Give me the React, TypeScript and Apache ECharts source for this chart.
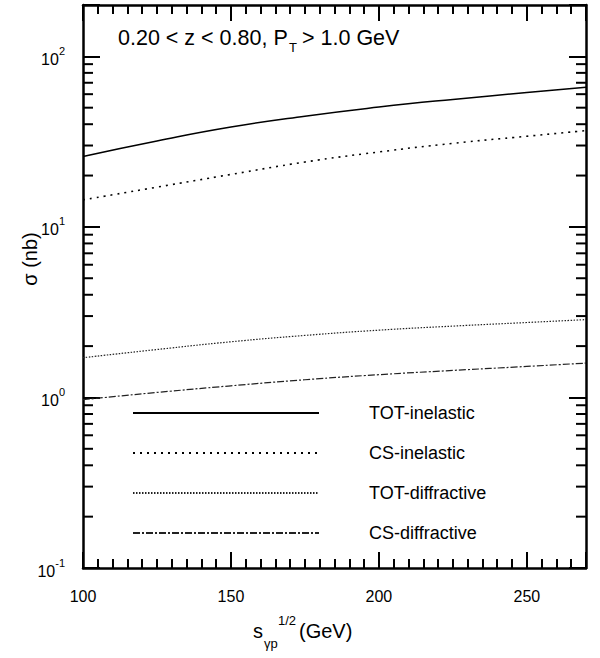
import React, { useEffect, useRef } from "react";
import * as echarts from "echarts";

const xValues = [100, 125, 150, 175, 200, 225, 250, 270];
const totInelastic = [25.9, 31.9, 38.5, 44.6, 50.4, 55.9, 61.3, 65.9];
const csInelastic = [14.4, 17.1, 20.3, 24.0, 27.5, 30.9, 34.0, 36.7];
const totDiffractive = [1.71, 1.91, 2.12, 2.31, 2.48, 2.62, 2.75, 2.86];
const csDiffractive = [0.97, 1.07, 1.17, 1.27, 1.36, 1.44, 1.52, 1.59];
const seriesNames = ["TOT-inelastic", "CS-inelastic", "TOT-diffractive", "CS-diffractive"];
const decades = [0.1, 1, 10, 100];
const minorMultipliers = [2, 3, 4, 5, 6, 7, 8, 9];
const xMin = 100;
const xMax = 270;
const yMin = 0.1;
const yMax = 200;

const FONT = "'Liberation Sans', Arial, sans-serif";

export default function App() {
  const ref = useRef<HTMLDivElement>(null);
  useEffect(() => {
    document.body.style.margin = "0";
    const chart = echarts.init(ref.current!, null, { renderer: "svg" });
    const pairs = (ys: number[]) => xValues.map((x, i) => [x, ys[i]]);
    const minorVals: number[][] = [];
    decades.forEach((d) =>
      minorMultipliers.forEach((m) => {
        const v = d * m;
        if (v < yMax) minorVals.push([xMin, v]);
      })
    );
    const axisLine = { show: true, lineStyle: { color: "#000", width: 2.5 } };
    const tickStyle = { color: "#000", width: 2 };
    const xBase = (position: string, showLabel: boolean) => ({
      type: "value",
      min: xMin,
      max: xMax,
      interval: 5,
      position,
      axisLine,
      axisTick: { show: true, inside: true, length: 9, lineStyle: tickStyle },
      axisLabel: {
        show: showLabel,
        formatter: (v: number) => (v % 50 === 0 ? String(v) : ""),
        fontSize: 16,
        color: "#000",
        margin: 20,
        fontFamily: FONT,
      },
      splitLine: { show: false },
    });
    const xMajor = (position: string) => ({
      type: "value",
      min: xMin,
      max: xMax,
      interval: 50,
      position,
      axisLine: { show: false },
      axisTick: { show: true, inside: true, length: 16, lineStyle: tickStyle },
      axisLabel: { show: false },
      splitLine: { show: false },
    });
    const yAx = (position: string, showLabel: boolean) => ({
      type: "log",
      logBase: 10,
      min: yMin,
      max: yMax,
      position,
      axisLine,
      axisTick: { show: true, inside: true, length: 17, lineStyle: tickStyle },
      axisLabel: {
        show: showLabel,
        margin: 18,
        formatter: (v: number) => {
          const l = Math.log10(v);
          const e = Math.round(l);
          if (Math.abs(l - e) > 1e-6) return "";
          return `{b|10}{s|${e}}`;
        },
        rich: {
          b: { fontSize: 16, color: "#000", fontFamily: FONT, lineHeight: 22, verticalAlign: "bottom" },
          s: { fontSize: 11, color: "#000", fontFamily: FONT, lineHeight: 22, verticalAlign: "top" },
        },
      },
      splitLine: { show: false },
    });
    const lineSeries = (name: string, ys: number[], lineStyle: any) => ({
      name,
      type: "line",
      data: pairs(ys),
      symbol: "none",
      smooth: 0.5,
      lineStyle: { color: "#000", ...lineStyle },
      itemStyle: { color: "#000" },
      xAxisIndex: 0,
      yAxisIndex: 0,
    });
    chart.setOption({
      animation: false,
      grid: { left: 83, right: 14, top: 5, bottom: 90, containLabel: false },
      xAxis: [xBase("bottom", true), xMajor("bottom"), xBase("top", false), xMajor("top")],
      yAxis: [yAx("left", true), yAx("right", false)],
      legend: {
        data: seriesNames,
        orient: "vertical",
        left: 132,
        top: 404,
        padding: 0,
        itemWidth: 186,
        itemHeight: 18,
        itemGap: 22,
        itemStyle: { opacity: 0 },
        textStyle: { fontSize: 18, color: "#000", fontFamily: FONT, padding: [0, 0, 0, 45] },
        selectedMode: false,
      },
      series: [
        lineSeries(seriesNames[0], totInelastic, { width: 1.5, type: "solid" }),
        lineSeries(seriesNames[1], csInelastic, { width: 1.6, type: [2, 5] }),
        lineSeries(seriesNames[2], totDiffractive, { width: 1.2, type: [1.5, 1.5], color: "#222" }),
        lineSeries(seriesNames[3], csDiffractive, { width: 1.2, type: [7, 2, 2, 2], color: "#222" }),
        {
          type: "custom",
          name: "minor",
          xAxisIndex: 0,
          yAxisIndex: 0,
          silent: true,
          clip: false,
          data: minorVals,
          renderItem: (params: any, api: any) => {
            const v = api.value(1);
            const l = api.coord([xMin, v]);
            const r = api.coord([xMax, v]);
            return {
              type: "group",
              children: [
                { type: "line", shape: { x1: l[0], y1: l[1], x2: l[0] + 10, y2: l[1] }, style: { stroke: "#000", lineWidth: 2 } },
                { type: "line", shape: { x1: r[0] - 10, y1: r[1], x2: r[0], y2: r[1] }, style: { stroke: "#000", lineWidth: 2 } },
              ],
            };
          },
        },
      ],
      graphic: [
        { type: "text", left: 118, top: 27, style: { text: "0.20 < z < 0.80, P", fontSize: 21.5, fill: "#000", fontFamily: FONT } },
        { type: "text", left: 289, top: 41, style: { text: "T", fontSize: 13, fill: "#000", fontFamily: FONT } },
        { type: "text", left: 302, top: 27, style: { text: "> 1.0 GeV", fontSize: 21.5, fill: "#000", fontFamily: FONT } },
        { type: "text", x: 30, y: 259, rotation: Math.PI / 2, style: { text: "σ (nb)", fontSize: 20, fill: "#000", fontFamily: FONT, align: "center", verticalAlign: "middle" } },
        { type: "text", left: 253, top: 621, style: { text: "s", fontSize: 20, fill: "#000", fontFamily: FONT } },
        { type: "text", left: 264, top: 637, style: { text: "γp", fontSize: 13, fill: "#000", fontFamily: FONT } },
        { type: "text", left: 278, top: 614, style: { text: "1/2", fontSize: 13, fill: "#000", fontFamily: FONT } },
        { type: "text", left: 299, top: 621, style: { text: "(GeV)", fontSize: 20, fill: "#000", fontFamily: FONT } },
      ],
    });
    return () => chart.dispose();
  }, []);
  return <div ref={ref} style={{ width: 600, height: 658 }} />;
}
